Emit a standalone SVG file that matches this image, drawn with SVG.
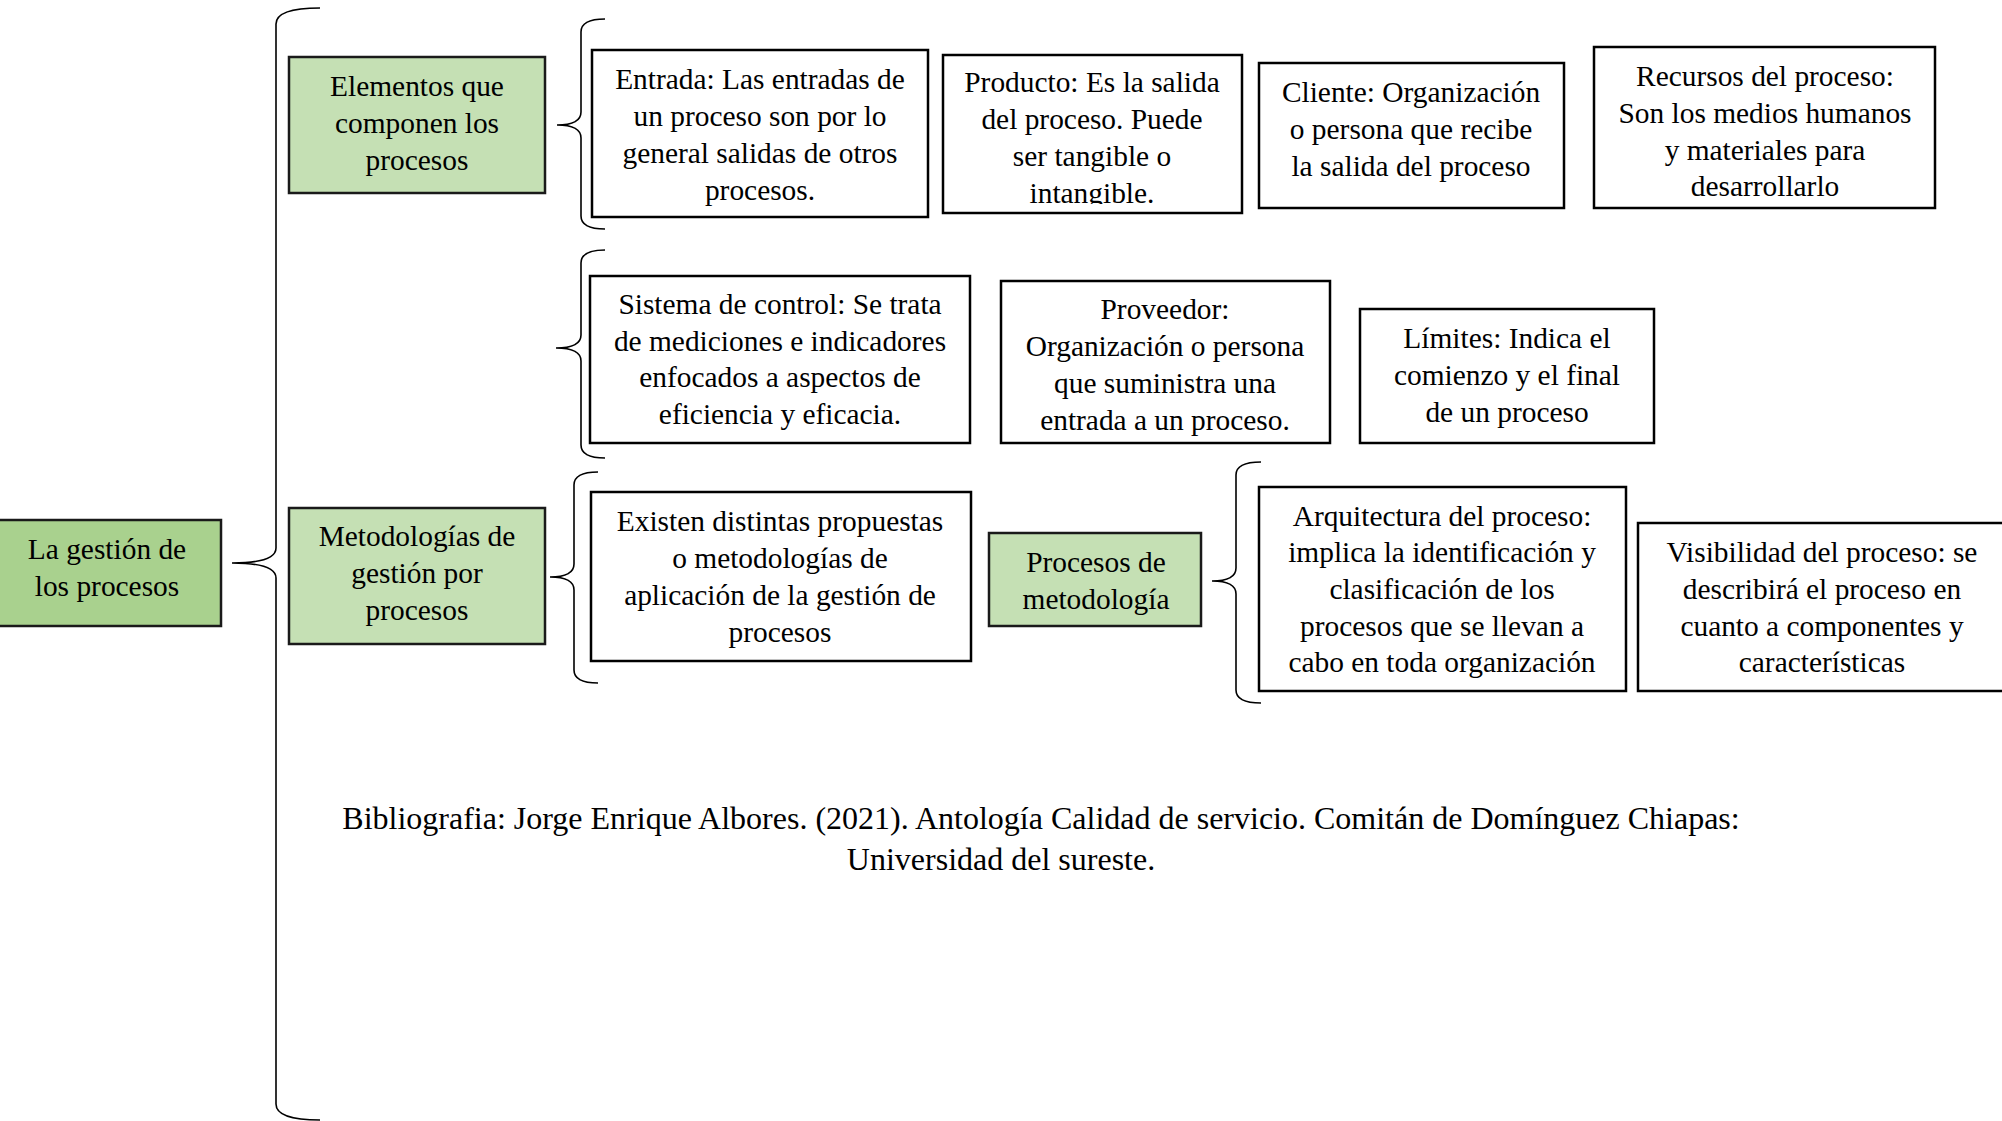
<svg xmlns="http://www.w3.org/2000/svg" width="2002" height="1121" viewBox="0 0 2002 1121">
<style>
.box{fill:#ffffff;stroke:#000;stroke-width:2.5}
.g1{fill:#c5e0b4;stroke:#1a1a1a;stroke-width:2.5}
.g2{fill:#a9d18e;stroke:#1a1a1a;stroke-width:2.5}
text{font-family:"Liberation Serif","Times New Roman",serif;font-size:29.4px;fill:#000;text-anchor:middle}
text.bib{font-size:32px}
.br{fill:none;stroke:#000;stroke-width:1.6}
</style>
<defs>
<clipPath id="clipProd"><rect x="943" y="55" width="299" height="149"/></clipPath>
</defs>
<rect width="2002" height="1121" fill="#fff"/>
<g id="connectors">
<path class="br" d="M320 8 Q276 8 276 24 L276 548 Q276 563 232 563 Q276 563 276 578 L276 1104 Q276 1120 320 1120"/>
<path class="br" d="M605 19 Q581 19 581 32 L581 112 Q581 125 557 125 Q581 125 581 138 L581 216 Q581 229 605 229"/>
<path class="br" d="M605 250 Q581 250 581 263 L581 335 Q581 348 556 348 Q581 348 581 361 L581 445 Q581 458 605 458"/>
<path class="br" d="M598 472 Q574 472 574 485 L574 564 Q574 577 550 577 Q574 577 574 590 L574 670 Q574 683 598 683"/>
<path class="br" d="M1261 462 Q1236 462 1236 475 L1236 568 Q1236 581 1212 581 Q1236 581 1236 594 L1236 690 Q1236 703 1261 703"/>
</g>
<g id="n-gestion">
<rect class="g2" x="-2" y="520" width="223" height="106"/>
<text x="107" y="559">La gestión de</text>
<text x="107" y="596">los procesos</text>
</g>
<g id="n-elementos">
<rect class="g1" x="289" y="57" width="256" height="136"/>
<text x="417" y="95.5">Elementos que</text>
<text x="417" y="132.5">componen los</text>
<text x="417" y="169.5">procesos</text>
</g>
<g id="n-metodologias">
<rect class="g1" x="289" y="508" width="256" height="136"/>
<text x="417" y="545.5">Metodologías de</text>
<text x="417" y="582.5">gestión por</text>
<text x="417" y="619.5">procesos</text>
</g>
<g id="n-entrada">
<rect class="box" x="592" y="50" width="336" height="167"/>
<text x="760" y="88.5">Entrada: Las entradas de</text>
<text x="760" y="125.5">un proceso son por lo</text>
<text x="760" y="162.5">general salidas de otros</text>
<text x="760" y="199.5">procesos.</text>
</g>
<g id="n-producto">
<rect class="box" x="943" y="55" width="299" height="158"/>
<g clip-path="url(#clipProd)">
<text x="1092" y="92">Producto: Es la salida</text>
<text x="1092" y="129">del proceso. Puede</text>
<text x="1092" y="166">ser tangible o</text>
<text x="1092" y="203">intangible.</text>
</g>
</g>
<g id="n-cliente">
<rect class="box" x="1259" y="63" width="305" height="145"/>
<text x="1411" y="101.5">Cliente: Organización</text>
<text x="1411" y="138.5">o persona que recibe</text>
<text x="1411" y="175.5">la salida del proceso</text>
</g>
<g id="n-recursos">
<rect class="box" x="1594" y="47" width="341" height="161"/>
<text x="1765" y="85.5">Recursos del proceso:</text>
<text x="1765" y="122.5">Son los medios humanos</text>
<text x="1765" y="159.5">y materiales para</text>
<text x="1765" y="195.5">desarrollarlo</text>
</g>
<g id="n-sistema">
<rect class="box" x="590" y="276" width="380" height="167"/>
<text x="780" y="313.5">Sistema de control: Se trata</text>
<text x="780" y="350.5">de mediciones e indicadores</text>
<text x="780" y="386.5">enfocados a aspectos de</text>
<text x="780" y="423.5">eficiencia y eficacia.</text>
</g>
<g id="n-proveedor">
<rect class="box" x="1001" y="281" width="329" height="162"/>
<text x="1165" y="318.5">Proveedor:</text>
<text x="1165" y="355.5">Organización o persona</text>
<text x="1165" y="392.5">que suministra una</text>
<text x="1165" y="429.5">entrada a un proceso.</text>
</g>
<g id="n-limites">
<rect class="box" x="1360" y="309" width="294" height="134"/>
<text x="1507" y="347.5">Límites: Indica el</text>
<text x="1507" y="384.5">comienzo y el final</text>
<text x="1507" y="421.5">de un proceso</text>
</g>
<g id="n-existen">
<rect class="box" x="591" y="492" width="380" height="169"/>
<text x="780" y="530.5">Existen distintas propuestas</text>
<text x="780" y="567.5">o metodologías de</text>
<text x="780" y="604.5">aplicación de la gestión de</text>
<text x="780" y="641.5">procesos</text>
</g>
<g id="n-procmet">
<rect class="g1" x="989" y="533" width="212" height="93"/>
<text x="1096" y="571.5">Procesos de</text>
<text x="1096" y="608.5">metodología</text>
</g>
<g id="n-arquitectura">
<rect class="box" x="1259" y="487" width="367" height="204"/>
<text x="1442" y="525.5">Arquitectura del proceso:</text>
<text x="1442" y="561.5">implica la identificación y</text>
<text x="1442" y="598.5">clasificación de los</text>
<text x="1442" y="635.5">procesos que se llevan a</text>
<text x="1442" y="671.5">cabo en toda organización</text>
</g>
<g id="n-visibilidad">
<rect class="box" x="1638" y="523" width="380" height="168"/>
<text x="1822" y="561.5">Visibilidad del proceso: se</text>
<text x="1822" y="598.5">describirá el proceso en</text>
<text x="1822" y="635.5">cuanto a componentes y</text>
<text x="1822" y="671.5">características</text>
</g>
<g id="bibliografia">
<text class="bib" x="1041" y="829">Bibliografia: Jorge Enrique Albores. (2021). Antología Calidad de servicio. Comitán de Domínguez Chiapas:</text>
<text class="bib" x="1001" y="870">Universidad del sureste.</text>
</g>
</svg>
